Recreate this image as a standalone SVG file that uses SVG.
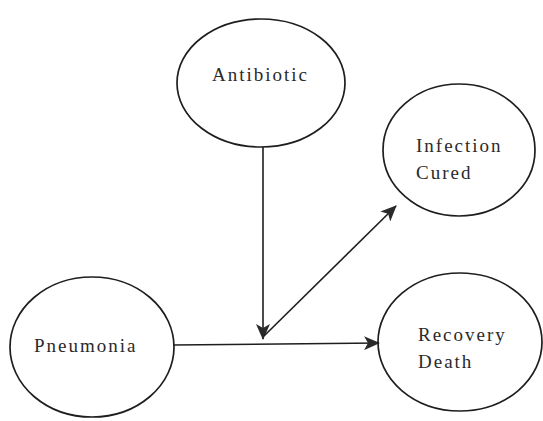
<svg xmlns="http://www.w3.org/2000/svg" width="543" height="421" viewBox="0 0 543 421">
  <style>
    .node ellipse { fill: none; stroke: #1e1e1e; stroke-width: 1.7; }
    .node text { font-family: "Liberation Serif", "Times New Roman", serif; font-size: 19px; letter-spacing: 2px; fill: #2a2a2a; }
    .edge { stroke: #1e1e1e; stroke-width: 1.6; fill: none; marker-end: url(#arrow); }
  </style>
  <defs>
    <marker id="arrow" viewBox="0 0 16 14" refX="15" refY="7" markerWidth="16" markerHeight="14" markerUnits="userSpaceOnUse" orient="auto">
      <path d="M0,0 L16,7 L0,14 L4,7 Z" fill="#2a2a2a"/>
    </marker>
  </defs>
  <rect width="543" height="421" fill="#ffffff"/>

  <g id="connectors">
    <line class="edge" x1="263" y1="147" x2="263" y2="339"/>
    <line class="edge" x1="173" y1="345" x2="379" y2="343"/>
    <line class="edge" x1="264" y1="336" x2="396" y2="206"/>
  </g>

  <g id="antibiotic" class="node">
    <ellipse cx="261" cy="83" rx="84" ry="64"/>
    <text x="212" y="81">Antibiotic</text>
  </g>

  <g id="infection-cured" class="node">
    <ellipse cx="459" cy="150" rx="76" ry="66"/>
    <text x="416" y="152">Infection</text>
    <text x="416" y="179">Cured</text>
  </g>

  <g id="pneumonia" class="node">
    <ellipse cx="92" cy="347" rx="82" ry="70"/>
    <text x="34" y="352" letter-spacing="2.6">Pneumonia</text>
  </g>

  <g id="recovery-death" class="node">
    <ellipse cx="460" cy="342" rx="82" ry="69"/>
    <text x="418" y="341">Recovery</text>
    <text x="418" y="368">Death</text>
  </g>
</svg>
